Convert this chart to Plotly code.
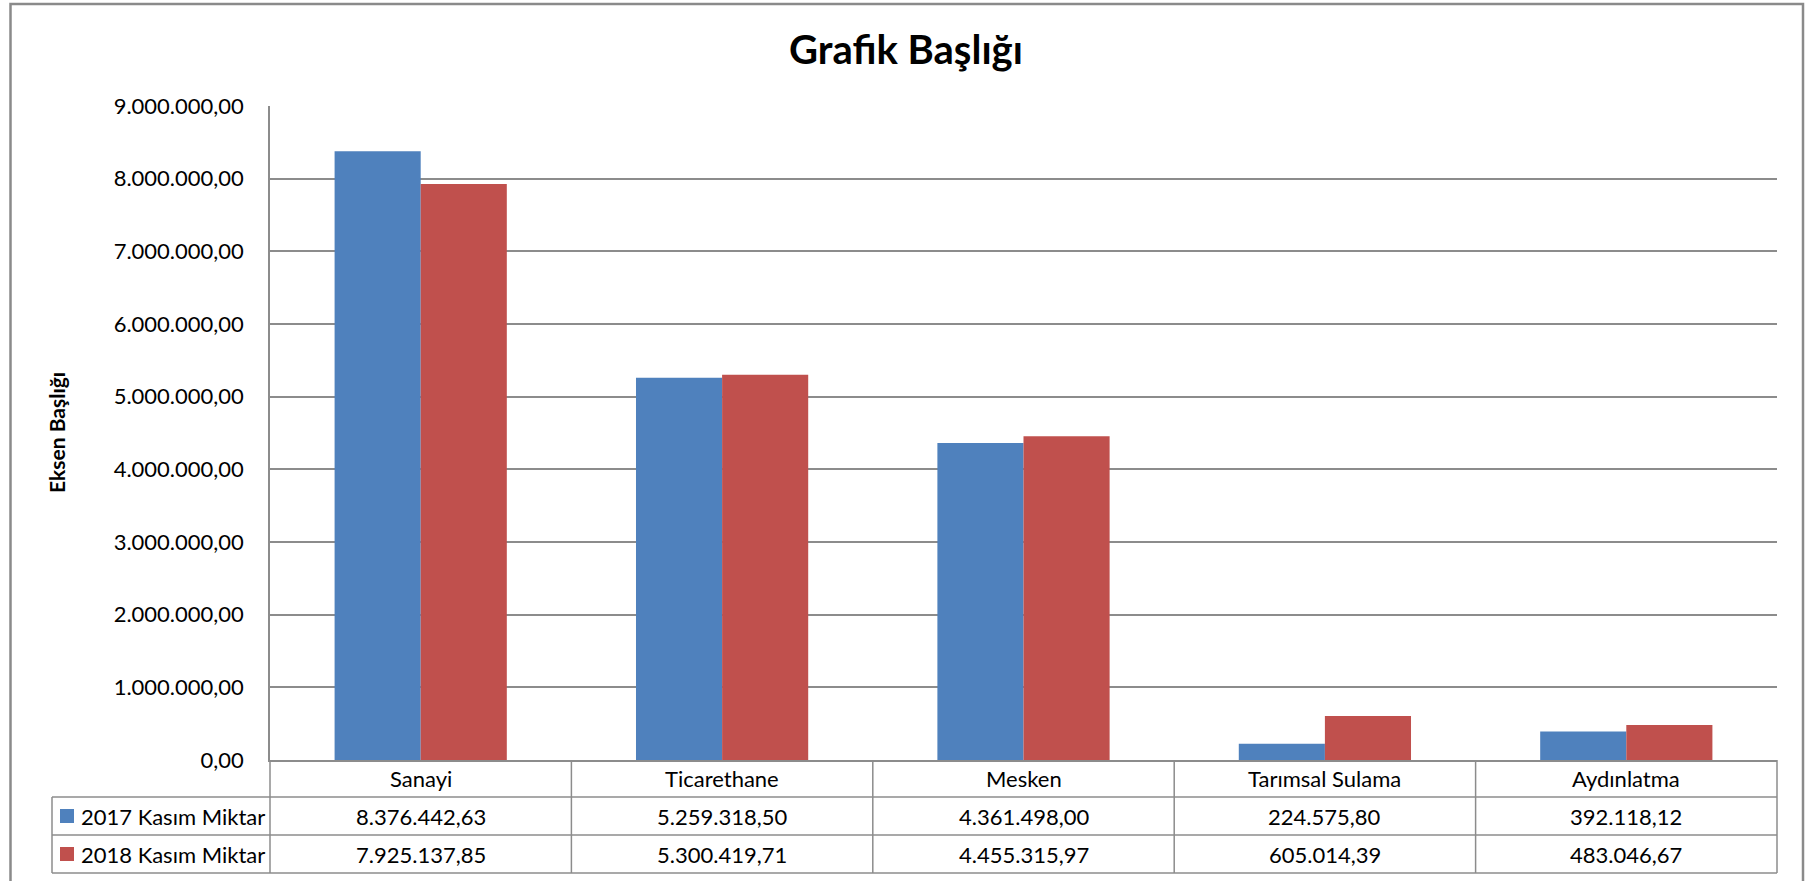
import plotly.graph_objects as go

# ---- data ----
categories = ["Sanayi", "Ticarethane", "Mesken", "Tarımsal Sulama", "Aydınlatma"]
series_names = ["2017 Kasım Miktar", "2018 Kasım Miktar"]
values_2017 = [8376442.63, 5259318.50, 4361498.00, 224575.80, 392118.12]
values_2018 = [7925137.85, 5300419.71, 4455315.97, 605014.39, 483046.67]
series_colors = ["#4F81BD", "#C0504D"]
y_tick_values = [0, 1000000, 2000000, 3000000, 4000000, 5000000, 6000000, 7000000, 8000000, 9000000]
chart_title = "Grafik Başlığı"
axis_title = "Eksen Başlığı"

# ---- layout geometry (pixels) ----
W, H = 1805, 881
L, R, T, B = 270, 1777, 106, 760
PW, PH = R - L, B - T
FONT = "Lato, 'Open Sans', sans-serif"
GRID = "#8c8c8c"


def px_x(px):
    return (px - L) / PW


def px_y(py):
    return (B - py) / PH


def fmt_tr(v):
    s = f"{v:,.2f}"
    return s.replace(",", "X").replace(".", ",").replace("X", ".")


fig = go.Figure()
for name, vals, col in zip(series_names, [values_2017, values_2018], series_colors):
    fig.add_trace(go.Bar(x=categories, y=vals, name=name, marker_color=col,
                         marker_line_width=0, showlegend=False))

# table geometry
row_y = [760, 797, 835, 873]
table_left = 52

shapes = []
for ry in row_y[1:]:
    shapes.append(dict(type="line", xref="paper", yref="paper",
                       x0=px_x(table_left), x1=1, y0=px_y(ry), y1=px_y(ry),
                       line=dict(color=GRID, width=1.5)))
for i in range(len(categories) - 1):
    shapes.append(dict(type="line", xref="x", yref="paper",
                       x0=i + 0.5, x1=i + 0.5, y0=0, y1=px_y(row_y[-1]),
                       line=dict(color=GRID, width=1.5)))
shapes.append(dict(type="line", xref="paper", yref="paper", x0=0, x1=0,
                   y0=0, y1=px_y(row_y[-1]), line=dict(color=GRID, width=1.5)))
shapes.append(dict(type="line", xref="paper", yref="paper", x0=1, x1=1,
                   y0=0, y1=px_y(row_y[-1]), line=dict(color=GRID, width=1.5)))
shapes.append(dict(type="line", xref="paper", yref="paper", x0=px_x(table_left), x1=px_x(table_left),
                   y0=px_y(row_y[1]), y1=px_y(row_y[-1]), line=dict(color=GRID, width=1.5)))
for k, col in enumerate(series_colors):
    cy = (row_y[k + 1] + row_y[k + 2]) / 2
    shapes.append(dict(type="rect", xref="paper", yref="paper",
                       x0=px_x(60), x1=px_x(74), y0=px_y(cy - 7), y1=px_y(cy + 7),
                       fillcolor=col, line=dict(width=0)))
shapes.append(dict(type="rect", xref="paper", yref="paper",
                   x0=px_x(10.5), x1=px_x(1803), y0=px_y(4), y1=px_y(900),
                   line=dict(color="#8a8a8a", width=2.5), fillcolor="rgba(0,0,0,0)"))

annotations = []
fs = 22
cat_y = px_y((row_y[0] + row_y[1]) / 2)
for c in categories:
    annotations.append(dict(x=c, y=cat_y, xref="x", yref="paper", text=c, showarrow=False,
                            xanchor="center", yanchor="middle", font=dict(family=FONT, size=fs, color="black")))
for k, (name, vals) in enumerate(zip(series_names, [values_2017, values_2018])):
    ry = px_y((row_y[k + 1] + row_y[k + 2]) / 2)
    annotations.append(dict(x=px_x(79), y=ry, xref="paper", yref="paper", text=name, showarrow=False,
                            xanchor="left", yanchor="middle", font=dict(family=FONT, size=fs, color="black")))
    for c, v in zip(categories, vals):
        annotations.append(dict(x=c, y=ry, xref="x", yref="paper", text=fmt_tr(v), showarrow=False,
                                xanchor="center", yanchor="middle",
                                font=dict(family=FONT, size=fs, color="black")))
annotations.append(dict(x=px_x(56), y=0.5, xref="paper", yref="paper", text="<b>" + axis_title + "</b>",
                        textangle=-90, showarrow=False, xanchor="center", yanchor="middle",
                        font=dict(family=FONT, size=21, color="black")))

fig.update_layout(
    width=W, height=H,
    margin=dict(l=L, r=W - R, t=T, b=H - B, autoexpand=False),
    paper_bgcolor="white", plot_bgcolor="white",
    separators=",.",
    barmode="group", bargap=0.4286, bargroupgap=0,
    title=dict(text="<b>" + chart_title + "</b>", x=906 / W, xref="container", xanchor="center",
               y=1 - 50 / H, yref="container", yanchor="middle",
               font=dict(family=FONT, size=40, color="black")),
    xaxis=dict(type="category", range=[-0.5, 4.5], showticklabels=False, showgrid=False,
               showline=True, linecolor=GRID, linewidth=1.5, ticks="", zeroline=False, fixedrange=True),
    yaxis=dict(range=[0, 9000000], tickvals=y_tick_values, tickformat=",.2f",
               showgrid=True, gridcolor=GRID, gridwidth=1.5, zeroline=False,
               showline=True, linecolor=GRID, linewidth=1.5, ticks="",
               ticklabelstandoff=20,
               tickfont=dict(family=FONT, size=fs, color="black")),
    shapes=shapes, annotations=annotations,
)

fig.write_html("out.html", config={"displayModeBar": False},
               post_script="document.body.style.margin='0';document.body.style.overflow='hidden';")
